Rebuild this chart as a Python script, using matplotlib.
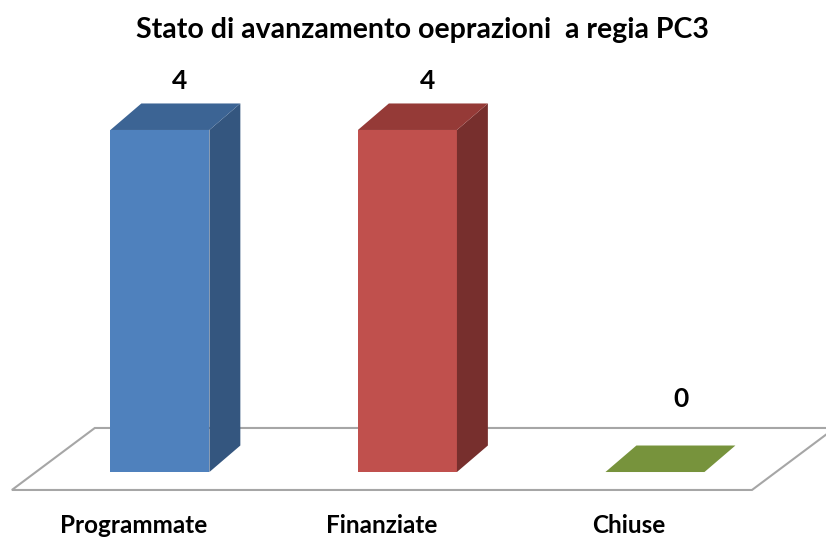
import matplotlib.pyplot as plt
from matplotlib.patches import Polygon

# dati
categorie = ["Programmate", "Finanziate", "Chiuse"]
valori = [4, 4, 0]
titolo = "Stato di avanzamento oeprazioni  a regia PC3"

# colori (fronte, lato, cima)
col_fronte = ["#4F81BD", "#C0504D", "#77933C"]
col_lato = ["#34567F", "#772F2D", "#5A7030"]
col_cima = ["#3C6494", "#953A37", "#77933C"]

larg = 0.4      # larghezza barra in unita categoria
dx = 0.125      # profondita 3D orizzontale
dy = 0.31       # profondita 3D verticale (unita valore)
fondo = 0.515   # bordo posteriore del pavimento

plt.rcParams['font.family'] = ['Lato', 'DejaVu Sans']

fig = plt.figure(figsize=(8.26, 5.4), dpi=100)
ax = fig.add_axes([0, 0, 1, 1])
ax.set_xlim(-0.646, 2.691)
ax.set_ylim(-0.795, 5.52)
ax.axis("off")

# pavimento
floor = Polygon([(-0.598, -0.21), (2.392, -0.21), (2.727, fondo), (-0.263, fondo)],
                closed=True, facecolor="white", edgecolor="#A6A6A6", lw=1.5, zorder=1)
ax.add_patch(floor)

for i, (cat, v) in enumerate(zip(categorie, valori)):
    x0 = i - larg / 2
    x1 = i + larg / 2
    if v > 0:
        # fronte
        ax.add_patch(Polygon([(x0, 0), (x1, 0), (x1, v), (x0, v)],
                             closed=True, facecolor=col_fronte[i], lw=0, zorder=3))
        # lato
        ax.add_patch(Polygon([(x1, 0), (x1 + dx, dy), (x1 + dx, v + dy), (x1, v)],
                             closed=True, facecolor=col_lato[i], lw=0, zorder=3))
    # cima
    ax.add_patch(Polygon([(x0, v), (x1, v), (x1 + dx, v + dy), (x0 + dx, v + dy)],
                         closed=True, facecolor=col_cima[i], lw=0, zorder=3))
    ty = max(v + dy + 0.12, fondo + 0.2)
    tx = i + 0.08 if v > 0 else i + 0.105
    ax.text(tx, ty, str(v), ha="center", va="bottom",
            fontsize=19, fontweight="bold", color="black")
    ax.text(i - 0.105, -0.62, cat, ha="center", va="center",
            fontsize=17.5, fontweight="bold", color="black")

fig.text(0.512, 0.944, titolo, ha="center", va="center",
         fontsize=20.5, fontweight="bold", color="black")

fig.savefig("out.png", dpi=100, facecolor="white")
